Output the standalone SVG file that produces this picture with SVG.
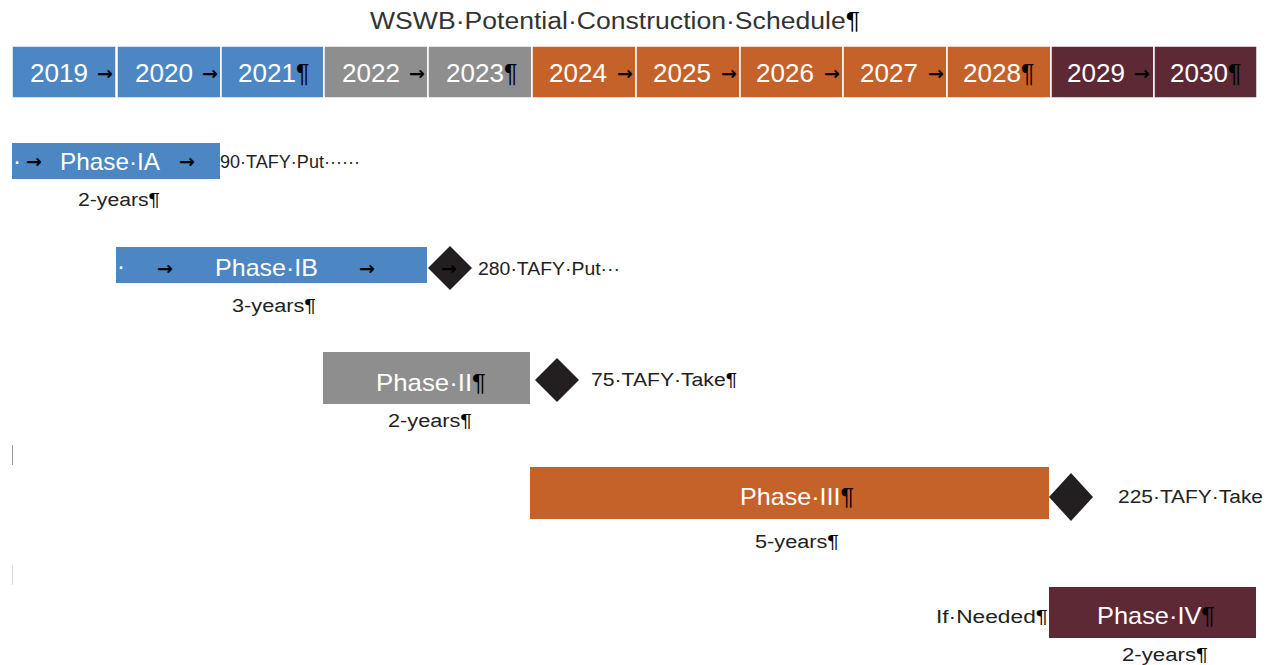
<svg xmlns="http://www.w3.org/2000/svg" width="1273" height="665" viewBox="0 0 1273 665">
<style>
text{font-family:"Liberation Sans",Arial,sans-serif}
.yr{font-size:25px;fill:#fff}
.ph{font-size:24px;fill:#fff}
.blk{fill:#000}
.arr{font-family:"DejaVu Sans",sans-serif;font-weight:bold;font-size:19px;fill:#000}
.lbl{font-size:18px;fill:#222}
.ttl{font-size:23px;fill:#333}
.blue{fill:#4C86C3}
.gray{fill:#8E8E8E}
.orng{fill:#C5622A}
.marn{fill:#5C2934}
.box{stroke:#fff;stroke-width:1.5}
.dia{fill:#231F20}
</style>
<rect width="1273" height="665" fill="#fff"/>
<g id="title"><text class="ttl" x="370" y="29" textLength="490" lengthAdjust="spacingAndGlyphs">WSWB·Potential·Construction·Schedule<tspan class="blk">¶</tspan></text></g>
<g id="years">
<g id="y2019"><rect class="box blue" x="12" y="46" width="104" height="52"/><text class="yr" x="30" y="82" textLength="58" lengthAdjust="spacingAndGlyphs">2019</text><text class="arr" x="97" y="80">→</text></g>
<g id="y2020"><rect class="box blue" x="117" y="46" width="104" height="52"/><text class="yr" x="135" y="82" textLength="58" lengthAdjust="spacingAndGlyphs">2020</text><text class="arr" x="202" y="80">→</text></g>
<g id="y2021"><rect class="box blue" x="221" y="46" width="103" height="52"/><text class="yr" x="238" y="82" textLength="58" lengthAdjust="spacingAndGlyphs">2021</text><text class="yr blk" x="296" y="82" font-size="24">¶</text></g>
<g id="y2022"><rect class="box gray" x="324" y="46" width="104" height="52"/><text class="yr" x="342" y="82" textLength="58" lengthAdjust="spacingAndGlyphs">2022</text><text class="arr" x="409" y="80">→</text></g>
<g id="y2023"><rect class="box gray" x="428" y="46" width="104" height="52"/><text class="yr" x="446" y="82" textLength="58" lengthAdjust="spacingAndGlyphs">2023</text><text class="yr blk" x="504" y="82" font-size="24">¶</text></g>
<g id="y2024"><rect class="box orng" x="532" y="46" width="104" height="52"/><text class="yr" x="549" y="82" textLength="58" lengthAdjust="spacingAndGlyphs">2024</text><text class="arr" x="617" y="80">→</text></g>
<g id="y2025"><rect class="box orng" x="636" y="46" width="104" height="52"/><text class="yr" x="653" y="82" textLength="58" lengthAdjust="spacingAndGlyphs">2025</text><text class="arr" x="721" y="80">→</text></g>
<g id="y2026"><rect class="box orng" x="740" y="46" width="103" height="52"/><text class="yr" x="756" y="82" textLength="58" lengthAdjust="spacingAndGlyphs">2026</text><text class="arr" x="824" y="80">→</text></g>
<g id="y2027"><rect class="box orng" x="843" y="46" width="104" height="52"/><text class="yr" x="860" y="82" textLength="58" lengthAdjust="spacingAndGlyphs">2027</text><text class="arr" x="928" y="80">→</text></g>
<g id="y2028"><rect class="box orng" x="947" y="46" width="104" height="52"/><text class="yr" x="963" y="82" textLength="58" lengthAdjust="spacingAndGlyphs">2028</text><text class="yr blk" x="1021" y="82" font-size="24">¶</text></g>
<g id="y2029"><rect class="box marn" x="1051" y="46" width="103" height="52"/><text class="yr" x="1067" y="82" textLength="58" lengthAdjust="spacingAndGlyphs">2029</text><text class="arr" x="1134" y="80">→</text></g>
<g id="y2030"><rect class="box marn" x="1154" y="46" width="103" height="52"/><text class="yr" x="1170" y="82" textLength="58" lengthAdjust="spacingAndGlyphs">2030</text><text class="yr blk" x="1228" y="82" font-size="24">¶</text></g>
</g>
<g id="connectors"></g>
<g id="phase-ia">
<rect class="blue" x="12" y="143" width="208" height="36"/>
<text class="ph" x="13" y="169" font-size="16">·</text>
<text class="arr" x="26" y="168">→</text>
<text class="ph" x="60" y="170" textLength="100" lengthAdjust="spacingAndGlyphs">Phase·IA</text>
<text class="arr" x="179" y="168">→</text>
<text class="lbl" x="220" y="168" textLength="140" lengthAdjust="spacingAndGlyphs">90·TAFY·Put······</text>
<text class="lbl" x="78" y="206" textLength="82" lengthAdjust="spacingAndGlyphs">2-years<tspan class="blk">¶</tspan></text>
</g>
<g id="phase-ib">
<rect class="blue" x="116" y="247" width="311" height="36"/>
<text class="ph" x="117" y="274" font-size="16">·</text>
<text class="arr" x="157" y="275">→</text>
<text class="ph" x="215" y="276" textLength="103" lengthAdjust="spacingAndGlyphs">Phase·IB</text>
<text class="arr" x="359" y="275">→</text>
<polygon class="dia" points="450,246 472,268 450,290 428,268"/>
<text class="arr" x="441" y="275">→</text>
<text class="lbl" x="478" y="275" textLength="142" lengthAdjust="spacingAndGlyphs">280·TAFY·Put···</text>
<text class="lbl" x="232" y="312" textLength="84" lengthAdjust="spacingAndGlyphs">3-years<tspan class="blk">¶</tspan></text>
</g>
<g id="phase-ii">
<rect class="gray" x="323" y="352" width="207" height="52"/>
<text class="ph" x="376" y="391" textLength="110" lengthAdjust="spacingAndGlyphs">Phase·II<tspan class="blk">¶</tspan></text>
<polygon class="dia" points="557,358 579,380 557,402 535,380"/>
<text class="lbl" x="591" y="386" textLength="146" lengthAdjust="spacingAndGlyphs">75·TAFY·Take<tspan class="blk">¶</tspan></text>
<text class="lbl" x="388" y="427" textLength="84" lengthAdjust="spacingAndGlyphs">2-years<tspan class="blk">¶</tspan></text>
</g>
<g id="marks">
<line x1="12.5" y1="445" x2="12.5" y2="465" stroke="#999" stroke-width="1"/>
<line x1="12.5" y1="565" x2="12.5" y2="585" stroke="#ddd" stroke-width="1"/>
</g>
<g id="phase-iii">
<rect class="orng" x="530" y="467" width="519" height="52"/>
<text class="ph" x="740" y="505" textLength="114" lengthAdjust="spacingAndGlyphs">Phase·III<tspan class="blk">¶</tspan></text>
<polygon class="dia" points="1071,473 1093,497 1071,521 1049,497"/>
<text class="lbl" x="1118" y="503" textLength="145" lengthAdjust="spacingAndGlyphs">225·TAFY·Take</text>
<text class="lbl" x="755" y="548" textLength="84" lengthAdjust="spacingAndGlyphs">5-years<tspan class="blk">¶</tspan></text>
</g>
<g id="phase-iv">
<rect class="marn" x="1049" y="587" width="207" height="51"/>
<text class="ph" x="1097" y="624" textLength="118" lengthAdjust="spacingAndGlyphs">Phase·IV<tspan class="blk">¶</tspan></text>
<text class="lbl" x="936" y="623" textLength="112" lengthAdjust="spacingAndGlyphs">If·Needed<tspan class="blk">¶</tspan></text>
<text class="lbl" x="1122" y="661" textLength="86" lengthAdjust="spacingAndGlyphs">2-years<tspan class="blk">¶</tspan></text>
</g>
</svg>
